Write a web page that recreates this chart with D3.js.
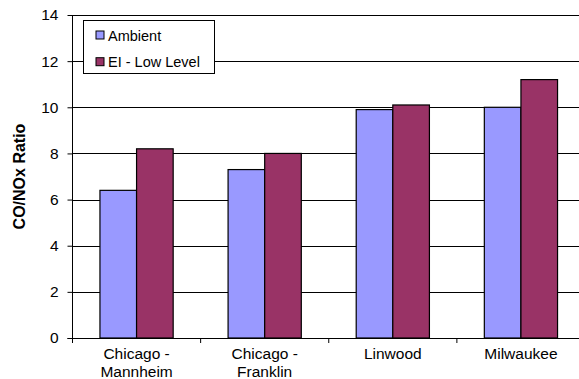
<!DOCTYPE html>
<html>
<head>
<meta charset="utf-8">
<script src="https://cdn.jsdelivr.net/npm/d3@7"></script>
<style>
  html, body { margin: 0; padding: 0; background: #fff; }
  svg { display: block; font-family: Arial, "Liberation Sans", sans-serif; }
</style>
</head>
<body>
<svg id="chart" width="579" height="379"></svg>
<script>
// Sites along the x axis (each label may wrap onto two lines)
const sites = [["Chicago -", "Mannheim"], ["Chicago -", "Franklin"], ["Linwood"], ["Milwaukee"]];
const seriesNames = ["Ambient", "EI - Low Level"];
const ambient = [6.4, 7.3, 9.9, 10.0];
const eiLowLevel = [8.2, 8.0, 10.1, 11.2];
const yTicks = [0, 2, 4, 6, 8, 10, 12, 14];
const colors = ["#9999ff", "#993366"];

const svg = d3.select("#chart");
const margin = { left: 72.5, right: -6, top: 15, bottom: 41 };
const W = 579, H = 379;
const plotL = margin.left, plotR = W - margin.right;
const plotT = margin.top, plotB = H - margin.bottom;

const keys = sites.map(d => d.join(" "));
const x0 = d3.scaleBand().domain(keys).range([plotL, plotR]).paddingInner(0).paddingOuter(0);
const x1 = d3.scaleBand().domain(seriesNames).range([0, x0.bandwidth()]).paddingOuter(0.75).paddingInner(0);
const y = d3.scaleLinear().domain([0, 14]).range([plotB, plotT]);

// Horizontal gridlines
svg.append("g").selectAll("line").data(yTicks.filter(t => t > 0)).join("line")
  .attr("x1", plotL).attr("x2", plotR)
  .attr("y1", d => Math.round(y(d)) + 0.5).attr("y2", d => Math.round(y(d)) + 0.5)
  .attr("stroke", "#000").attr("stroke-width", 1);

// Bars
const series = [ambient, eiLowLevel];
const groups = svg.append("g").selectAll("g").data(keys).join("g")
  .attr("transform", d => `translate(${x0(d)},0)`);
groups.selectAll("rect").data((d, i) => seriesNames.map((s, j) => ({ s, v: series[j][i], j })))
  .join("rect")
  .attr("x", d => x1(d.s))
  .attr("width", x1.bandwidth())
  .attr("y", d => y(d.v))
  .attr("height", d => y(0) - y(d.v))
  .attr("fill", d => colors[d.j])
  .attr("stroke", "#000").attr("stroke-width", 1.2);

// Y axis
const yAxis = d3.axisLeft(y).tickValues(yTicks).tickSize(5).tickPadding(9).tickFormat(d3.format("d"));
const gy = svg.append("g").attr("transform", `translate(${plotL},0)`).call(yAxis);
gy.select(".domain").attr("stroke", "#000").attr("d", `M0,${plotT}V${plotB}`);
gy.selectAll(".tick line").attr("stroke", "#000");
gy.selectAll(".tick text").attr("font-size", 15.5).attr("fill", "#000")
  .attr("font-family", "Arial, 'Liberation Sans', sans-serif");

// X axis baseline with ticks at group boundaries
const gx = svg.append("g");
gx.append("line").attr("x1", plotL - 5).attr("x2", plotR).attr("y1", plotB + 0.5).attr("y2", plotB + 0.5).attr("stroke", "#000");
const bounds = keys.map(k => x0(k)).concat([plotR]);
gx.selectAll("line.tk").data(bounds).join("line").attr("class", "tk")
  .attr("x1", d => d).attr("x2", d => d).attr("y1", plotB).attr("y2", plotB + 5).attr("stroke", "#000");
gx.selectAll("text").data(sites).join("text")
  .attr("x", (d, i) => x0(keys[i]) + x0.bandwidth() / 2)
  .attr("y", 359)
  .attr("text-anchor", "middle").attr("font-size", 15.5)
  .selectAll("tspan").data(d => d).join("tspan")
  .attr("x", function () { return this.parentNode.getAttribute("x"); })
  .attr("dy", (d, i) => i === 0 ? 0 : 17.7)
  .text(d => d);

// Y axis title
svg.append("text")
  .attr("transform", `translate(25,${(plotT + plotB) / 2}) rotate(-90)`)
  .attr("text-anchor", "middle").attr("font-size", 16).attr("font-weight", "bold")
  .text("CO/NOx Ratio");

// Legend
const lg = svg.append("g").attr("transform", "translate(83.5,20.5)");
lg.append("rect").attr("width", 131).attr("height", 53).attr("fill", "#fff").attr("stroke", "#000");
seriesNames.forEach((s, i) => {
  const cy = 14.5 + i * 26.7;
  lg.append("rect").attr("x", 12.5).attr("y", cy - 4).attr("width", 8).attr("height", 8)
    .attr("fill", colors[i]).attr("stroke", "#000");
  lg.append("text").attr("x", 24.5).attr("y", cy + 5.5).attr("font-size", 14.5).text(s);
});
</script>
</body>
</html>
